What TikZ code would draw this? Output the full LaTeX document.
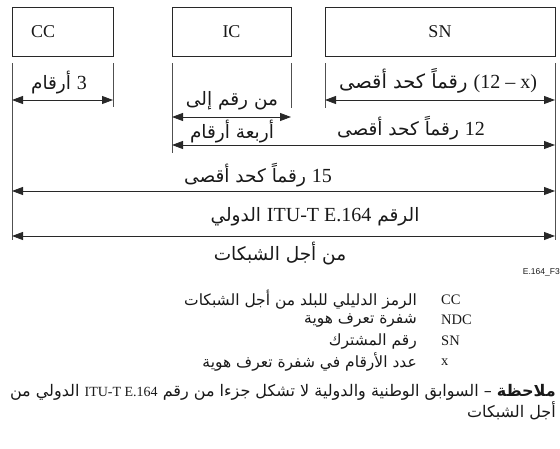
\documentclass[tikz,border=0pt]{standalone}
\usepackage{fontspec}
\setmainfont{Liberation Serif}
\newfontfamily\arabicfont[Script=Arabic]{DejaVu Sans}
\newfontfamily\latinfont{Liberation Serif}
\newfontfamily\figsans{Liberation Sans}
\TeXXeTstate=1
\usetikzlibrary{arrows.meta}
\newcommand{\latsz}{20}
\newcommand{\ArTxt}[1]{{\arabicfont\beginR #1\endR}}
\newcommand{\LaTxt}[1]{\beginL{\latinfont\fontsize{\latsz}{\latsz}\selectfont #1}\endL}
\definecolor{linecol}{RGB}{40,40,40}
\definecolor{tickcol}{RGB}{80,80,80}
\definecolor{txtcol}{RGB}{25,25,25}
\tikzset{
  boxst/.style={draw=linecol, line width=0.8pt, inner ysep=0pt, minimum height=49pt, font=\fontsize{18}{20}\selectfont, text=txtcol},
  tickst/.style={draw=tickcol, line width=0.6pt},
  dimst/.style={draw=linecol, line width=0.8pt, {Triangle[length=11pt,width=8pt]}-{Triangle[length=11pt,width=8pt]}},
  arlbl/.style={inner sep=0pt, text=txtcol, font=\fontsize{18.5}{22}\selectfont\renewcommand{\latsz}{20}},
  leglat/.style={inner sep=0pt, anchor=west, text=txtcol, font=\fontsize{14.5}{17}\selectfont},
  legar/.style={inner sep=0pt, anchor=east, text=txtcol, font=\fontsize{15.5}{18}\selectfont},
  notest/.style={inner sep=0pt, anchor=east, text=txtcol, font=\fontsize{16}{18}\selectfont\renewcommand{\latsz}{14}},
}
\begin{document}
\begin{tikzpicture}[x=1pt, y=-1pt]
\useasboundingbox (0,0) rectangle (560,448);
% boxes with their labels
\node[boxst, inner xsep=19pt, text width=63pt, align=left] (cc) at (62.5,31.5) {CC};
\node[boxst, inner xsep=0pt, minimum width=119pt] (ic) at (231.5,31.5) {IC};
\node[boxst, inner xsep=0pt, minimum width=230pt] (sn) at (440,31.5) {SN};
% ticks
\coordinate (t1a) at (12,63);  \coordinate (t1b) at (12,240);
\coordinate (t2a) at (113,63); \coordinate (t2b) at (113,107);
\coordinate (t3a) at (172,63); \coordinate (t3b) at (172,153);
\coordinate (t4a) at (291,63); \coordinate (t4b) at (291,108);
\coordinate (t5a) at (325,63); \coordinate (t5b) at (325,108);
\coordinate (t6a) at (555,63); \coordinate (t6b) at (555,240);
\foreach \t in {1,...,6} {\draw[tickst] (t\t a) -- (t\t b);}
% dimension arrows
\coordinate (a1l) at (12,100);  \coordinate (a1r) at (113,100);
\coordinate (a2l) at (172,117); \coordinate (a2r) at (291,117);
\coordinate (a3l) at (325,100); \coordinate (a3r) at (555,100);
\coordinate (a4l) at (172,145); \coordinate (a4r) at (555,145);
\coordinate (a5l) at (12,191);  \coordinate (a5r) at (555,191);
\coordinate (a6l) at (12,236);  \coordinate (a6r) at (555,236);
\draw[dimst] (a1l) -- (a1r);
\draw[dimst] (a2l) -- (a2r);
\draw[dimst] (a3l) -- (a3r);
\draw[dimst] (a4l) -- (a4r);
\draw[dimst] (a5l) -- (a5r);
\draw[dimst] (a6l) -- (a6r);
% arrow labels
\node[arlbl] (l1) at (59,83) {\ArTxt{\LaTxt{3} أرقام}};
\node[arlbl] (l2) at (232,101) {\ArTxt{من رقم إلى}};
\node[arlbl] (l2b) at (232,132) {\ArTxt{أربعة أرقام}};
\node[arlbl, font=\fontsize{19.5}{22}\selectfont] (l3) at (438,81) {\ArTxt{\LaTxt{(12 – x)} رقماً كحد أقصى}};
\node[arlbl] (l4) at (411,128) {\ArTxt{\LaTxt{12} رقماً كحد أقصى}};
\node[arlbl] (l5) at (258,175) {\ArTxt{\LaTxt{15} رقماً كحد أقصى}};
\node[arlbl] (l6) at (315,217) {\ArTxt{الرقم \LaTxt{ITU-T E.164} الدولي}};
\node[arlbl] (l6b) at (280,254) {\ArTxt{من أجل الشبكات}};
% figure id
\node[inner sep=0pt, anchor=east, text=txtcol, font=\figsans\fontsize{8.5}{10}\selectfont] (fid) at (560,272) {E.164\_F3};
% legend
\node[leglat] (k1) at (441,300) {CC};
\node[leglat] (k2) at (441,320) {NDC};
\node[leglat] (k3) at (441,341) {SN};
\node[leglat] (k4) at (441,362) {x};
\node[legar] (d1) at (417,300) {\ArTxt{الرمز الدليلي للبلد من أجل الشبكات}};
\node[legar] (d2) at (417,320) {\ArTxt{شفرة تعرف هوية}};
\node[legar] (d3) at (417,341) {\ArTxt{رقم المشترك}};
\node[legar] (d4) at (417,362) {\ArTxt{عدد الأرقام في شفرة تعرف هوية}};
% note
\node[notest] (n1) at (556,392) {\ArTxt{\textbf{ملاحظة} – السوابق الوطنية والدولية لا تشكل جزءا من رقم \LaTxt{ITU-T E.164} الدولي من}};
\node[notest] (n2) at (556,411) {\ArTxt{أجل الشبكات}};
\end{tikzpicture}
\end{document}
